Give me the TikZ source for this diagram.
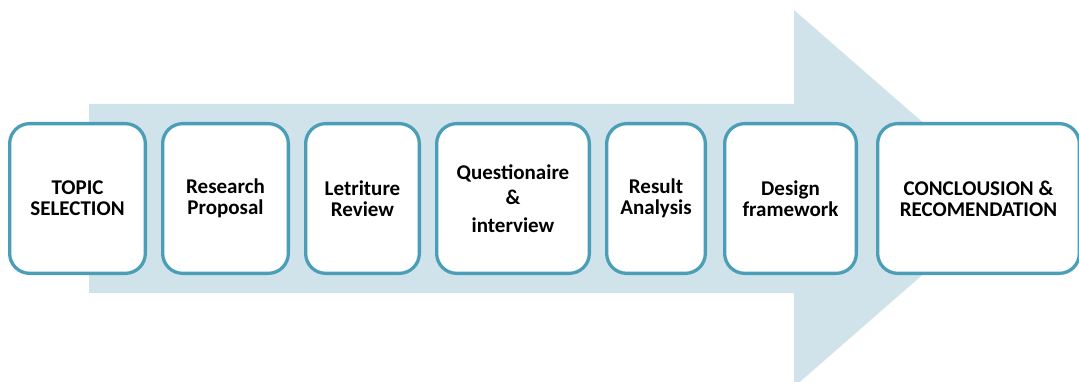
\documentclass[tikz,border=0pt]{standalone}
\usepackage{fontspec}
\setmainfont{Carlito}
\definecolor{arrowfill}{RGB}{209,227,234}
\definecolor{stageline}{RGB}{75,158,183}
\begin{document}
\begin{tikzpicture}[x=1pt,y=-1pt,
  stagebox/.style={draw=stageline, line width=3.3pt, fill=white,
    rounded corners=20pt, align=center, inner sep=2pt,
    minimum height=149.7pt,
    font=\fontsize{21}{21}\selectfont\bfseries}]
\useasboundingbox (0,0) rectangle (1079,382);
% background process arrow
\fill[arrowfill] (89,104) -- (794,104) -- (794,10) -- (1010,198.5)
  -- (794,387) -- (794,293) -- (89,293) -- cycle;
% process stages
\node[stagebox, minimum width=135.7pt] (s1) at (77.5,198.5) {TOPIC\\SELECTION};
\node[stagebox, minimum width=125.7pt] (s2) at (225.5,198.5) {Research\\Proposal};
\node[stagebox, minimum width=113.7pt] (s3) at (362.5,198.5) {Letriture\\Review};
\node[stagebox, minimum width=152.7pt] (s4) at (513,198.5) {Questionaire\\[4pt]\&\\[7pt]interview};
\node[stagebox, minimum width=98.7pt] (s5) at (656,198.5) {Result\\Analysis};
\node[stagebox, minimum width=131.7pt] (s6) at (790.5,198.5) {Design\\framework};
\node[stagebox, minimum width=201.7pt] (s7) at (978.5,198.5) {CONCLOUSION \&\\RECOMENDATION};
\end{tikzpicture}
\end{document}
